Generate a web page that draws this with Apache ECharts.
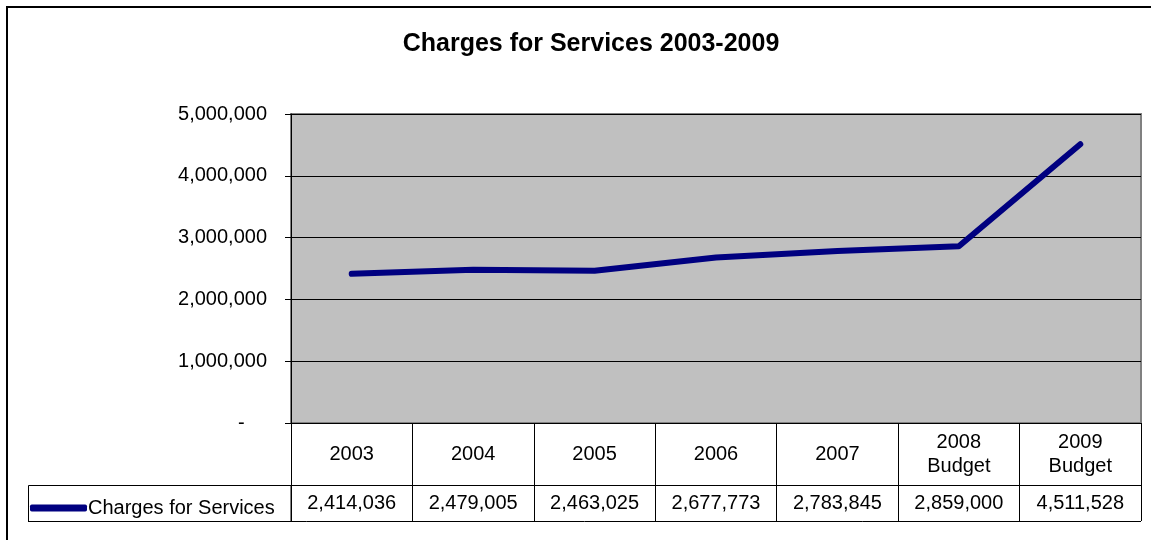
<!DOCTYPE html>
<html>
<head>
<meta charset="utf-8">
<script src="https://cdn.jsdelivr.net/npm/echarts@6/dist/echarts.min.js"></script>
<style>
  html, body { margin: 0; padding: 0; background: #fff; }
  #chartCharges { width: 1151px; height: 540px; }
</style>
</head>
<body>
<div id="chartCharges"></div>
<script>
// data
var years = ['2003', '2004', '2005', '2006', '2007', '2008\nBudget', '2009\nBudget']
var charges = [2414036, 2479005, 2463025, 2677773, 2783845, 2859000, 4511528]
var yTicks = [0, 1000000, 2000000, 3000000, 4000000, 5000000]

function fmt(v) {
  return v.toLocaleString('en-US')
}

var chart = echarts.init(document.getElementById('chartCharges'))
var font = 'Liberation Sans, Arial, sans-serif'

chart.setOption({
  backgroundColor: '#fff',
  animation: false,
  textStyle: { fontFamily: font, color: '#000' },
  title: {
    text: 'Charges for Services 2003-2009',
    left: 586,
    textAlign: 'center',
    top: 27,
    textStyle: { fontFamily: font, fontSize: 25, fontWeight: 'bold', color: '#000' }
  },
  legend: {
    left: 30,
    top: 496,
    padding: 0,
    icon: 'roundRect',
    itemWidth: 57,
    itemHeight: 7,
    textStyle: { fontFamily: font, fontSize: 20, color: '#000', lineHeight: 24, padding: [0, 0, 0, -4] },
    data: ['Charges for Services']
  },
  grid: {
    left: 291,
    right: 10,
    top: 114,
    bottom: 117,
    show: true,
    backgroundColor: '#c0c0c0',
    borderColor: '#808080',
    borderWidth: 2
  },
  xAxis: [
    {
      type: 'category',
      data: years,
      boundaryGap: true,
      axisLine: { show: true, lineStyle: { color: '#000', width: 1 } },
      axisTick: { show: true, interval: 0, inside: false, length: 62, lineStyle: { color: '#000', width: 1 } },
      splitLine: { show: false },
      axisLabel: { fontSize: 20, color: '#000', margin: 31, verticalAlign: 'middle', lineHeight: 24, interval: 0 }
    },
    {
      type: 'category',
      data: charges.map(fmt),
      position: 'bottom',
      offset: 62,
      boundaryGap: true,
      axisLine: { show: true, lineStyle: { color: '#000', width: 1 } },
      axisTick: { show: true, interval: 0, inside: false, length: 36, lineStyle: { color: '#000', width: 1 } },
      splitLine: { show: false },
      axisLabel: { fontSize: 20, color: '#000', margin: 18, verticalAlign: 'middle', interval: 0 }
    }
  ],
  yAxis: {
    type: 'value',
    min: yTicks[0],
    max: yTicks[yTicks.length - 1],
    interval: 1000000,
    axisLine: { show: true, lineStyle: { color: '#000', width: 1 } },
    axisTick: { show: true, length: 6, lineStyle: { color: '#000' } },
    splitLine: { lineStyle: { color: '#000', width: 1 } },
    axisLabel: {
      fontSize: 20,
      color: '#000',
      margin: 24,
      formatter: function (v) { return v === 0 ? '-    ' : fmt(v) }
    }
  },
  graphic: [
    { type: 'rect', shape: { x: 7, y: 7, width: 1170, height: 600 }, style: { fill: 'none', stroke: '#000', lineWidth: 2 } },
    { type: 'rect', shape: { x: 28.5, y: 485.5, width: 262.5, height: 36 }, style: { fill: 'none', stroke: '#000', lineWidth: 1 } },
    { type: 'line', shape: { x1: 28, y1: 521.5, x2: 1141, y2: 521.5 }, style: { stroke: '#000', lineWidth: 1 } }
  ],
  series: [
    {
      name: 'Charges for Services',
      type: 'line',
      xAxisIndex: 0,
      data: charges,
      showSymbol: false,
      symbol: 'none',
      itemStyle: { color: '#000080' },
      lineStyle: { color: '#000080', width: 6, cap: 'round', join: 'round' }
    }
  ]
})
</script>
</body>
</html>
